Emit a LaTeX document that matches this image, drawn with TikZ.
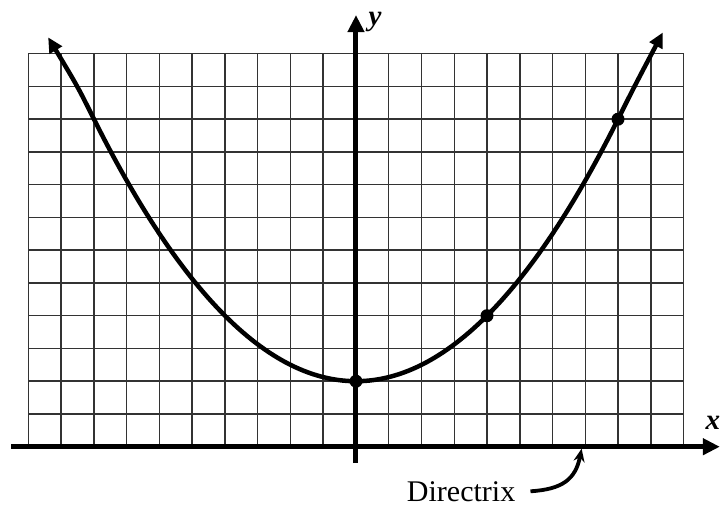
\documentclass[tikz,border=0pt]{standalone}
\usepackage{fontspec}
\setmainfont{Liberation Serif}
\usetikzlibrary{arrows.meta}
\tikzset{
  gridline/.style={line width=1.5pt, black!80},
  axisline/.style={line width=5pt, -{Triangle[length=17pt,width=16pt]}},
  curveline/.style={line width=4.5pt, {Triangle[length=15pt,width=14pt]}-{Triangle[length=15pt,width=14pt]}},
  dot/.style={circle, fill=black, inner sep=0pt, minimum size=13pt},
  axlabel/.style={font=\fontsize{29}{30}\selectfont\bfseries\itshape, inner sep=0pt},
  dirtext/.style={font=\fontsize{30}{31}\selectfont, inner sep=0pt, anchor=base},
  pointer/.style={line width=3.8pt, -{Stealth[length=13pt,width=11pt]}}
}
\begin{document}
\begin{tikzpicture}[x=32.75pt,y=32.75pt]
\useasboundingbox (-10.870,-1.872) rectangle (11.328,13.64);
% grid
\foreach \i in {-10,...,10} \draw[gridline] (\i,0) -- (\i,12);
\foreach \j in {1,...,12} \draw[gridline] (-10,\j) -- (10,\j);
% axes
\coordinate (xs) at (-10.52,0);
\coordinate (xe) at (11.11,0);
\coordinate (ys) at (0,-0.5);
\coordinate (ye) at (0,13.18);
\draw[axisline] (xs) -- (xe);
\draw[axisline] (ys) -- (ye);
\node[axlabel] (xl) at (10.90,0.72) {x};
\node[axlabel] (yl) at (0.58,12.97) {y};
% parabola
\draw[curveline] (-9.40,12.50) .. controls (-8.5,11) .. (-8,10)
  -- plot[domain=-8:8,samples=121] (\x,{\x*\x/8+2})
  .. controls (8.5,11) .. (9.37,12.65);
% points
\node[dot] (v) at (0,2) {};
\node[dot] (p1) at (4,4) {};
\node[dot] (p2) at (8,10) {};
% directrix label
\node[dirtext] (dl) at (3.21,-1.66) {Directrix};
\coordinate (dp) at (6.89,-0.06);
\draw[pointer] ([xshift=15pt]dl.east) .. controls (6.3,-1.3) and (6.7,-1.0) .. (dp);
\end{tikzpicture}
\end{document}
